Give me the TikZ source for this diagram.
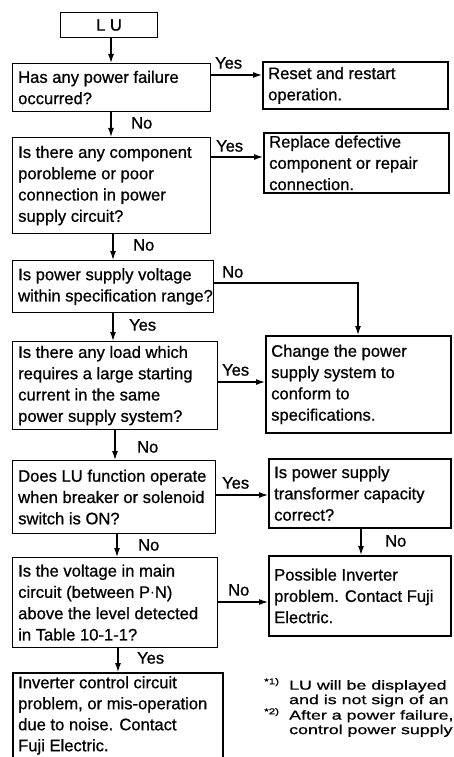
\documentclass[tikz,border=0pt]{standalone}
\usepackage{fontspec}
\setmainfont{Liberation Sans}[FakeBold=0.8]
\newfontfamily\boxfont{Liberation Sans}[FakeBold=0.8]
\newfontfamily\notefont{Liberation Sans}[FakeStretch=1.37,FakeBold=0.8]
\usetikzlibrary{arrows.meta}
\tikzset{
  qbox/.style={draw, line width=1.1pt, anchor=north west, inner sep=0pt},
  rbox/.style={qbox, line width=1.8pt},
  qtxt/.style={anchor=west, align=left, inner xsep=6pt, inner ysep=0pt,
    font=\boxfont\fontsize{16.6}{21.3}\selectfont},
  arr/.style={line width=1.2pt, -{Latex[length=9pt,width=6pt]}},
  lbl/.style={font=\boxfont\fontsize{16.5}{18}\selectfont, inner sep=0pt},
  note/.style={font=\notefont\fontsize{13}{14.5}\selectfont, align=left, inner sep=0pt, anchor=north west},
  notemark/.style={font=\notefont\fontsize{8.5}{9}\selectfont, inner sep=0pt, anchor=north west}
}
\begin{document}
\begin{tikzpicture}[x=1pt,y=-1pt]
\useasboundingbox (0,0) rectangle (453,757);
\clip (0,0) rectangle (453,757);
\fill[white] (0,0) rectangle (453,757);

% left column boxes
\node[qbox, minimum width=97pt, minimum height=25pt] (lu) at (60,12) {};
\node[lbl] (lut) at (lu.center) {L U};
\node[qbox, minimum width=198pt, minimum height=48pt] (q1) at (12,63) {};
\node[qtxt] (q1t) at (q1.west) {Has any power failure\\occurred?};
\node[qbox, minimum width=198pt, minimum height=96pt] (q2) at (12,137) {};
\node[qtxt] (q2t) at (q2.west) {Is there any component\\porobleme or poor\\connection in power\\supply circuit?};
\node[qbox, minimum width=201pt, minimum height=52pt] (q3) at (12,260) {};
\node[qtxt] (q3t) at (q3.west) {Is power supply voltage\\within specification range?};
\node[qbox, minimum width=205pt, minimum height=88pt] (q4) at (12,341) {};
\node[qtxt] (q4t) at (q4.west) {Is there any load which\\requires a large starting\\current in the same\\power supply system?};
\node[qbox, minimum width=203pt, minimum height=73pt] (q5) at (12,460) {};
\node[qtxt] (q5t) at (q5.west) {Does LU function operate\\when breaker or solenoid\\switch is ON?};
\node[qbox, minimum width=205pt, minimum height=90pt] (q6) at (12,557) {};
\node[qtxt] (q6t) at (q6.west) {Is the voltage in main\\circuit (between P$\cdot$N)\\above the level detected\\in Table 10-1-1?};
\node[rbox, minimum width=210pt, minimum height=92pt] (r6) at (12,672) {};
\node[qtxt, anchor=north west, font=\boxfont\fontsize{16.6}{21}\selectfont] (r6t) at (12,676) {Inverter control circuit\\problem, or mis-operation\\due to noise. Contact\\Fuji Electric.};

% right column boxes
\node[rbox, minimum width=185pt, minimum height=47pt] (r1) at (262,61) {};
\node[qtxt] (r1t) at (r1.west) {Reset and restart\\operation.};
\node[rbox, minimum width=185pt, minimum height=60pt] (r2) at (263,132) {};
\node[qtxt] (r2t) at (r2.west) {Replace defective\\component or repair\\connection.};
\node[rbox, minimum width=185pt, minimum height=97pt] (r3) at (265,335) {};
\node[qtxt] (r3t) at (r3.west) {Change the power\\supply system to\\conform to\\specifications.};
\node[rbox, minimum width=182pt, minimum height=69pt] (r4) at (268,458) {};
\node[qtxt] (r4t) at (r4.west) {Is power supply\\transformer capacity\\correct?};
\node[rbox, minimum width=182pt, minimum height=80pt] (r5) at (268,555) {};
\node[qtxt] (r5t) at (r5.west) {Possible Inverter\\problem. Contact Fuji\\Electric.};

% vertical connectors
\draw[arr] (lu.south -| 111,0) -- (q1.north -| 111,0);
\draw[arr] (q1.south -| 111,0) -- (q2.north -| 111,0);
\node[lbl, anchor=west] (l1) at (131,123) {No};
\draw[arr] (q2.south -| 113,0) -- (q3.north -| 113,0);
\node[lbl, anchor=west] (l2) at (133,245) {No};
\draw[arr] (q3.south -| 113,0) -- (q4.north -| 113,0);
\node[lbl, anchor=west] (l3) at (129,325) {Yes};
\draw[arr] (q4.south -| 115,0) -- (q5.north -| 115,0);
\node[lbl, anchor=west] (l4) at (137,447) {No};
\draw[arr] (q5.south -| 117,0) -- (q6.north -| 117,0);
\node[lbl, anchor=west] (l5) at (138,545) {No};
\draw[arr] (q6.south -| 118,0) -- (r6.north -| 118,0);
\node[lbl, anchor=west] (l6) at (137,658) {Yes};
\draw[arr] (r4.south -| 361,0) -- (r5.north -| 361,0);
\node[lbl, anchor=west] (l7) at (385,541) {No};

% horizontal connectors
\draw[arr] (q1.east |- 0,75) -- (r1.west |- 0,75);
\node[lbl, anchor=west] (l8) at (215,63) {Yes};
\draw[arr] (q2.east |- 0,157) -- (r2.west |- 0,157);
\node[lbl, anchor=west] (l9) at (216,146) {Yes};
\draw[arr] (q3.east |- 0,283) -| (r3.north -| 358,0);
\node[lbl, anchor=west] (l10) at (222,272) {No};
\draw[arr] (q4.east |- 0,382) -- (r3.west |- 0,382);
\node[lbl, anchor=west] (l11) at (222,370) {Yes};
\draw[arr] (q5.east |- 0,495) -- (r4.west |- 0,495);
\node[lbl, anchor=west] (l12) at (222,483) {Yes};
\draw[arr] (q6.east |- 0,602) -- (r5.west |- 0,602);
\node[lbl, anchor=west] (l13) at (228,590) {No};

% footnotes
\node[notemark] (m1) at (264,678) {*1)};
\node[note] (n1) at (289,680) {LU will be displayed\\and is not sign of an};
\node[notemark] (m2) at (264,708) {*2)};
\node[note] (n2) at (289,710) {After a power failure,\\control power supply};
\end{tikzpicture}
\end{document}
